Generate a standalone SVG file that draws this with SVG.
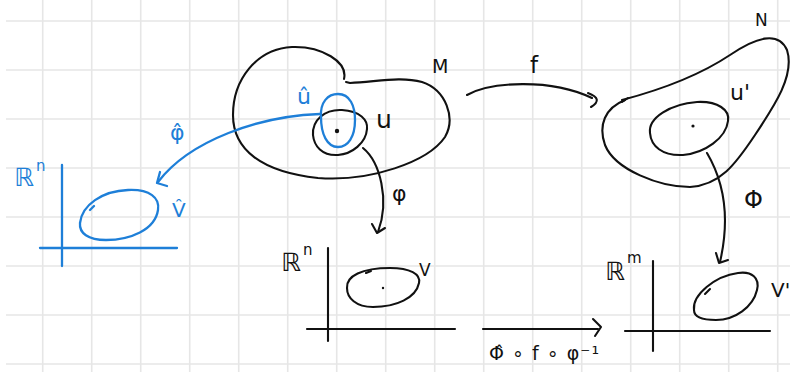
<svg xmlns="http://www.w3.org/2000/svg" width="790" height="372" viewBox="0 0 790 372">
<style>
.grid line{stroke:#e6e6e6;stroke-width:1.6}
.k{fill:none;stroke:#111;stroke-width:2.1;stroke-linecap:round;stroke-linejoin:round}
.b{fill:none;stroke:#1e7fd8;stroke-width:2.3;stroke-linecap:round;stroke-linejoin:round}
.tk{fill:#111;font-family:"DejaVu Sans",sans-serif}
.tb{fill:#1e7fd8;font-family:"DejaVu Sans",sans-serif}
</style>
<rect width="790" height="372" fill="#fff"/>
<g class="grid">
<line x1="42.7" y1="0" x2="42.7" y2="372"/><line x1="91.7" y1="0" x2="91.7" y2="372"/><line x1="140.7" y1="0" x2="140.7" y2="372"/><line x1="189.7" y1="0" x2="189.7" y2="372"/><line x1="238.7" y1="0" x2="238.7" y2="372"/><line x1="287.7" y1="0" x2="287.7" y2="372"/><line x1="336.7" y1="0" x2="336.7" y2="372"/><line x1="385.7" y1="0" x2="385.7" y2="372"/><line x1="434.7" y1="0" x2="434.7" y2="372"/><line x1="483.7" y1="0" x2="483.7" y2="372"/><line x1="532.7" y1="0" x2="532.7" y2="372"/><line x1="581.7" y1="0" x2="581.7" y2="372"/><line x1="630.7" y1="0" x2="630.7" y2="372"/><line x1="679.7" y1="0" x2="679.7" y2="372"/><line x1="728.7" y1="0" x2="728.7" y2="372"/><line x1="777.7" y1="0" x2="777.7" y2="372"/>
<line x1="6" y1="21" x2="790" y2="21"/><line x1="6" y1="70" x2="790" y2="70"/><line x1="6" y1="119" x2="790" y2="119"/><line x1="6" y1="168" x2="790" y2="168"/><line x1="6" y1="217" x2="790" y2="217"/><line x1="6" y1="266" x2="790" y2="266"/><line x1="6" y1="315" x2="790" y2="315"/><line x1="6" y1="364" x2="790" y2="364"/>
</g>

<g id="manifold-M">
<path class="k" d="M344 79 C348 62,322 46,292 47 C256 49,233 80,233 115 C233 150,262 172,318 178 C370 182,428 162,445 137 C456 118,446 90,422 82 C400 76,376 82,350 83 L346 82"/>
<text class="tk" x="432" y="73" font-size="19" textLength="23">M</text>
</g>

<g id="set-U">
<path class="k" d="M313 135 C312 120,325 109,342 110 C360 111,368 120,367 129 C366 143,352 154,338 155 C322 156,314 146,313 135 Z"/>
<circle cx="337" cy="131" r="2.2" fill="#111"/>
<text class="tk" x="376" y="128" font-size="25">u</text>
</g>

<g id="set-U-hat">
<path class="b" d="M321 117 C320 102,328 94,338 94 C350 94,355 106,355 120 C355 137,348 147,338 147 C327 147,321 134,321 117 Z"/>
<text class="tb" x="297" y="104" font-size="22">û</text>
</g>

<g id="manifold-N">
<path class="k" d="M622 100 C660 90,700 75,730 55 C755 38,778 30,787 50 C795 75,775 105,755 135 C735 165,720 185,690 187 C660 187,615 170,605 145 C598 125,605 108,625 100"/>
<path class="k" d="M622 102 L628 98"/>
<text class="tk" x="755" y="26" font-size="17">N</text>
</g>

<g id="set-U-prime">
<path class="k" d="M650 133 C648 118,670 104,697 102 C718 101,730 110,728 121 C726 138,705 153,683 155 C662 156,651 146,650 133 Z"/>
<circle cx="693" cy="126" r="1.6" fill="#111"/>
<text class="tk" x="730" y="100" font-size="22">u'</text>
</g>

<g id="chart-Rn-hat">
<line class="b" x1="62" y1="165" x2="62" y2="266"/>
<line class="b" x1="40" y1="248" x2="177" y2="248"/>
<path class="b" d="M80 223 C82 205,102 191,128 190 C150 189,160 198,158 210 C155 230,130 240,106 240 C88 240,79 233,80 223 Z"/>
<path class="b" d="M90 210 L94 206"/>
<text class="tb" x="14" y="186" font-size="25">ℝ</text>
<text class="tb" x="36" y="171" font-size="15">n</text>
<text class="tb" x="172" y="217" font-size="20">V̂</text>
</g>

<g id="chart-Rn">
<line class="k" x1="328" y1="248" x2="328" y2="341"/>
<line class="k" x1="307" y1="329" x2="455" y2="329"/>
<path class="k" d="M347 288 C346 276,362 268,390 268 C410 268,421 274,419 283 C416 298,396 307,373 307 C356 307,347 298,347 288 Z"/>
<circle cx="383" cy="288" r="1.2" fill="#111"/>
<path class="k" d="M366 273 L371 271"/>
<text class="tk" x="281" y="271" font-size="25">ℝ</text>
<text class="tk" x="303" y="255" font-size="15">n</text>
<text class="tk" x="419" y="276" font-size="17">V</text>
</g>

<g id="chart-Rm">
<line class="k" x1="653" y1="261" x2="653" y2="351"/>
<line class="k" x1="625" y1="331" x2="770" y2="331"/>
<path class="k" d="M694 310 C692 295,715 276,738 273 C752 271,760 278,757 290 C753 307,735 320,716 320 C702 320,694 317,694 310 Z"/>
<path class="k" d="M705 294 L710 289"/>
<text class="tk" x="605" y="280" font-size="25">ℝ</text>
<text class="tk" x="627" y="263" font-size="15">m</text>
<text class="tk" x="771" y="297" font-size="20">V'</text>
</g>

<g id="connectors">
<path class="k" d="M467 95 C490 82,550 78,592 98"/>
<path class="k" d="M588 93 Q604 99 591 107"/>
<text class="tk" x="530" y="73" font-size="23">f</text>

<path class="k" d="M363 148 C380 162,390 200,378 232"/>
<path class="k" d="M372 224 L377 233 L385 228"/>
<text class="tk" x="392" y="201" font-size="22">φ</text>

<path class="k" d="M707 153 C720 175,732 210,720 262"/>
<path class="k" d="M716 253 L719 263 L728 260"/>
<text class="tk" x="744" y="208" font-size="24">Φ</text>

<path class="b" d="M320 114 C260 116,190 140,158 182"/>
<path class="b" d="M160 172 L157 183 L167 186"/>
<text class="tb" x="170" y="140" font-size="22">φ̂</text>

<path class="k" d="M483 329 L598 329"/>
<path class="k" d="M593 319 L601 327 L595 336"/>
<text class="tk" x="489" y="360" font-size="19" textLength="110">Φ̂ ∘ f ∘ φ⁻¹</text>
</g>
</svg>
